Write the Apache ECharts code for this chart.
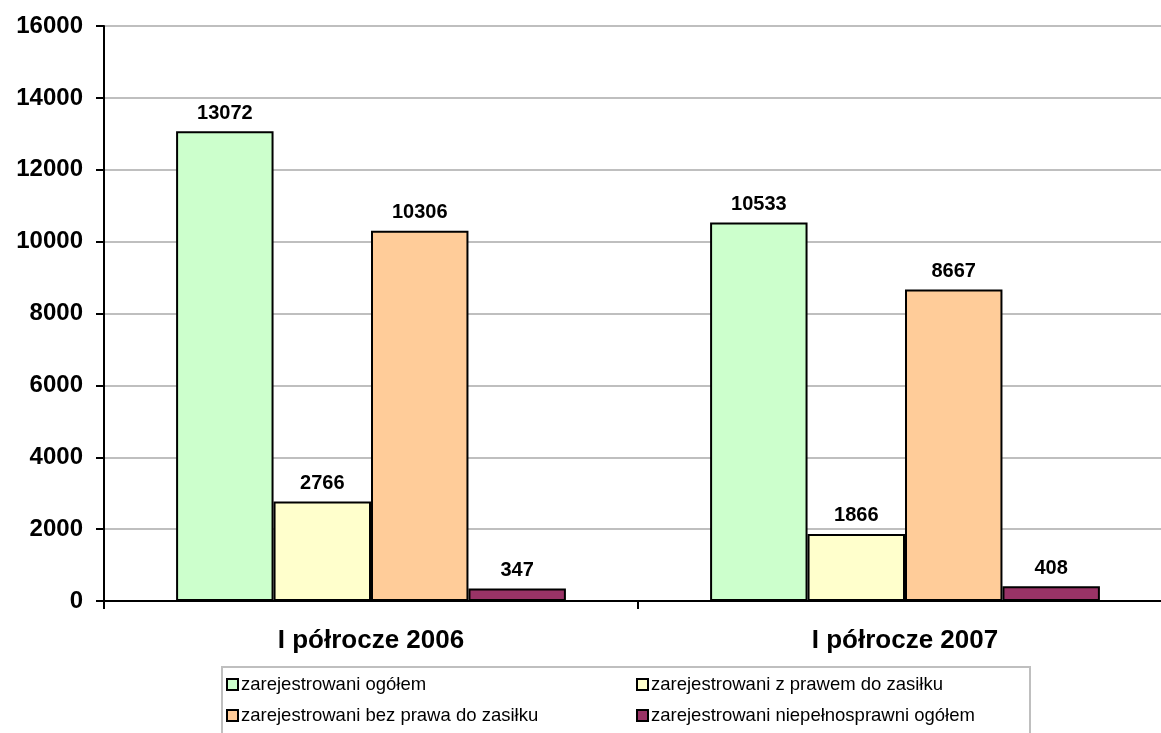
<!DOCTYPE html>
<html><head><meta charset="utf-8">
<script src="https://cdn.jsdelivr.net/npm/echarts@6/dist/echarts.min.js"></script>
<style>html,body{margin:0;padding:0;background:#fff;overflow:hidden}#c{width:1172px;height:733px}</style>
</head><body><div id="c"></div>
<script>
const categories = ['I półrocze 2006', 'I półrocze 2007'];
const seriesNames = ['zarejestrowani ogółem', 'zarejestrowani z prawem do zasiłku', 'zarejestrowani bez prawa do zasiłku', 'zarejestrowani niepełnosprawni ogółem'];
const ogolem = [13072, 10533];
const zPrawem = [2766, 1866];
const bezPrawa = [10306, 8667];
const niepelnosprawni = [347, 408];
const colors = ['#CCFFCC', '#FFFFCC', '#FFCC99', '#993366'];
const values = [ogolem, zPrawem, bezPrawa, niepelnosprawni];
const font = 'Liberation Sans, Arial, sans-serif';

const chart = echarts.init(document.getElementById('c'));
const series = values.map((v, i) => ({
  name: seriesNames[i],
  type: 'bar',
  barGap: '0%',
  barCategoryGap: '27%',
  itemStyle: { color: colors[i], borderColor: '#000', borderWidth: 2 },
  label: { show: true, position: 'top', distance: 8, color: '#000', fontWeight: 'bold', fontSize: 20, fontFamily: font },
  data: v
}));

const legendText = { fontSize: 18.5, fontFamily: font, color: '#000', padding: [0, 0, 0, -2] };
const legendIcon = { borderColor: '#000', borderWidth: 2 };
chart.setOption({
  animation: false,
  grid: { left: 104, top: 26, right: 0, bottom: 132 },
  xAxis: {
    type: 'category', data: categories,
    axisLine: { lineStyle: { color: '#000', width: 2 } },
    axisTick: { show: true, length: 8, lineStyle: { color: '#000', width: 2 } },
    axisLabel: { color: '#000', fontWeight: 'bold', fontSize: 26, fontFamily: font, margin: 27 }
  },
  yAxis: {
    type: 'value', min: 0, max: 16000, interval: 2000,
    axisLine: { show: true, lineStyle: { color: '#000', width: 2 } },
    axisTick: { show: true, length: 8, lineStyle: { color: '#000', width: 2 } },
    splitLine: { lineStyle: { color: '#BFBFBF', width: 2 } },
    axisLabel: { color: '#000', fontWeight: 'bold', fontSize: 24, fontFamily: font, margin: 21, formatter: v => String(v) }
  },
  legend: [
    { orient: 'vertical', left: 221, top: 670, height: 120, itemGap: 12, itemWidth: 11, itemHeight: 11, icon: 'rect',
      data: [seriesNames[0], seriesNames[2]], textStyle: legendText, itemStyle: legendIcon },
    { orient: 'vertical', left: 631, top: 670, height: 120, itemGap: 12, itemWidth: 11, itemHeight: 11, icon: 'rect',
      data: [seriesNames[1], seriesNames[3]], textStyle: legendText, itemStyle: legendIcon }
  ],
  graphic: [{ type: 'rect', shape: { x: 222, y: 667, width: 808, height: 80 },
    style: { fill: 'none', stroke: '#BFBFBF', lineWidth: 2 } }],
  series: series
});
</script></body></html>
